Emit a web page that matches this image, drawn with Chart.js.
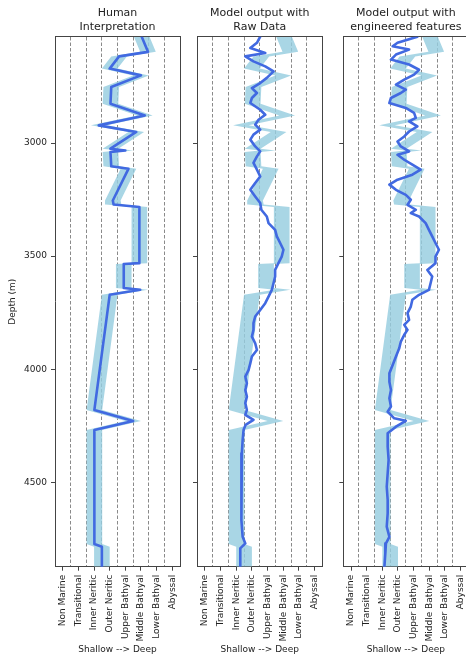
<!DOCTYPE html>
<html><head><meta charset="utf-8">
<script src="https://cdn.jsdelivr.net/npm/chart.js@4.4.1/dist/chart.umd.min.js"></script>
<style>
html,body{margin:0;padding:0;background:#fff;overflow:hidden;width:466px;height:657px;position:relative;}
canvas{position:absolute;top:0;}
</style></head><body>
<canvas id="c1" width="185" height="657" style="left:0px"></canvas>
<canvas id="c2" width="143" height="657" style="left:185px"></canvas>
<canvas id="c3" width="146" height="657" style="left:328px"></canvas>
<script>
// ---- data ----
const categories = ['Non Marine','Transitional','Inner Neritic','Outer Neritic','Upper Bathyal','Middle Bathyal','Lower Bathyal','Abyssal'];
const classBoundaries = [0.5,1.5,2.5,3.5,4.5,5.5,6.5];
const depthTicks = [3000,3500,4000,4500];
const depthMin = 2530, depthMax = 4873;
const bandHalfWidth = 0.5;

const humanDepth = [2530,2597,2617,2671,2701,2752,2826,2878,2922,2951,3025,3033,3040,3103,3114,3254,3272,3283,3531,3535,3641,3649,3671,4180,4229,4269,4773,4785,4873];
const humanValue = [5.05,5.45,3.6,3.0,5.0,3.1,3.05,5.25,2.3,4.7,3.05,4.0,3.05,3.1,4.2,3.2,3.25,4.9,4.9,3.9,3.9,4.95,3.0,2.02,4.5,2.02,2.02,2.5,2.5];

const rawDepth = [2530,2557,2580,2602,2617,2639,2661,2683,2712,2735,2757,2779,2801,2823,2853,2875,2897,2919,2941,2963,2985,3015,3037,3059,3088,3118,3148,3177,3207,3236,3265,3295,3325,3354,3384,3413,3442,3472,3502,3531,3561,3590,3619,3649,3679,3708,3738,3767,3796,3826,3856,3885,3915,3944,3973,4003,4033,4062,4092,4121,4150,4180,4202,4224,4246,4268,4312,4372,4446,4519,4593,4667,4741,4770,4792,4829,4873];
const rawValue = [3.53,3.32,2.9,3.85,2.58,3.1,3.85,4.38,3.95,3.53,3.0,3.32,3.0,2.9,3.53,3.85,3.42,3.21,3.53,3.1,2.9,3.21,3.53,3.32,3.1,3.32,3.53,3.21,2.9,3.21,3.53,3.6,3.95,4.06,4.48,4.59,4.8,5.01,4.9,4.69,4.48,4.48,4.38,4.27,4.06,3.85,3.53,3.21,3.1,3.1,3.0,3.21,3.32,3.0,2.9,2.79,2.58,2.68,2.58,2.68,2.58,2.68,2.58,3.1,2.6,2.47,2.41,2.36,2.32,2.32,2.36,2.32,2.41,2.58,2.26,2.26,2.26];

const engDepth = [2530,2557,2572,2587,2609,2631,2653,2676,2698,2720,2742,2764,2779,2801,2823,2845,2867,2889,2904,2926,2949,2971,2993,3015,3037,3052,3074,3096,3118,3140,3162,3184,3207,3229,3251,3273,3295,3310,3325,3354,3384,3413,3442,3472,3502,3531,3561,3590,3619,3649,3671,3693,3723,3752,3782,3804,3826,3848,3878,3907,3944,3981,4018,4055,4092,4128,4165,4188,4217,4228,4254,4283,4342,4401,4460,4519,4578,4637,4696,4741,4770,4814,4873];
const engValue = [4.24,2.97,2.66,3.71,2.87,2.55,3.71,4.35,4.03,3.4,2.87,3.5,3.18,2.55,2.45,3.5,4.03,4.14,3.71,4.24,3.71,3.4,2.97,3.18,3.71,2.97,3.4,3.92,4.45,3.92,2.97,2.45,2.87,3.5,3.82,3.61,4.14,3.82,4.35,4.77,4.98,5.19,5.4,5.62,5.4,5.4,4.88,5.19,5.09,4.98,4.35,3.92,3.82,3.61,3.71,3.4,3.61,3.4,3.18,3.08,2.87,2.66,2.45,2.45,2.55,2.45,2.55,2.34,2.76,3.5,2.87,2.34,2.34,2.4,2.34,2.28,2.34,2.34,2.28,2.45,2.23,2.19,2.13];

// ---- style ----
const FONT = 'DejaVu Sans';
const textColor = '#222';
const frameColor = '#444';
const gridColor = '#8a8a8a';
const lineColor = '#4169e1';
const bandColor = 'rgba(150,205,223,0.82)';
Chart.defaults.font.family = FONT;

function pts(depth, vals, shift) {
  return depth.map((d, i) => ({x: vals[i] + shift, y: d}));
}

function makePanel(id, cfg) {
  new Chart(document.getElementById(id), {
    type: 'line',
    data: {
      datasets: [
        {data: pts(humanDepth, humanValue, -bandHalfWidth), borderWidth: 0, borderColor: 'rgba(0,0,0,0)', pointRadius: 0, fill: false, order: 2, xAxisID: 'x', yAxisID: 'y'},
        {data: pts(humanDepth, humanValue, bandHalfWidth), borderWidth: 0, borderColor: 'rgba(0,0,0,0)', pointRadius: 0, fill: '-1', backgroundColor: bandColor, order: 1, xAxisID: 'x', yAxisID: 'y'},
        {data: pts(cfg.depth, cfg.value, 0), borderColor: lineColor, borderWidth: 2.6, pointRadius: 0, fill: false, order: 0, borderJoinStyle: 'round', borderCapStyle: 'round', xAxisID: 'x', yAxisID: 'y'}
      ]
    },
    options: {
      indexAxis: 'y',
      responsive: false,
      animation: false,
      devicePixelRatio: 1,
      layout: {padding: {left: 0, right: cfg.padRight, top: 0, bottom: 0}},
      plugins: {
        legend: {display: false},
        tooltip: {enabled: false},
        title: {
          display: true, text: cfg.title, fullSize: false, align: 'center', color: textColor,
          font: {family: FONT, size: 11, weight: 'normal', lineHeight: 1.25},
          padding: {top: 6.4, bottom: 2.8}
        }
      },
      scales: {
        x: {
          type: 'linear', position: 'bottom', min: -0.5, max: 7.5,
          afterBuildTicks: a => { a.ticks = categories.map((c, i) => ({value: i})); },
          afterFit: a => { a.height = 90.3; a.paddingLeft = 0; a.paddingRight = 0; },
          ticks: {autoSkip: false, maxRotation: 90, minRotation: 90, padding: 4, color: textColor,
                  font: {family: FONT, size: 9}, callback: v => categories[Math.round(v)]},
          grid: {drawOnChartArea: false, drawTicks: true, tickLength: 4, color: frameColor, lineWidth: 1},
          border: {display: true, color: frameColor, width: 1},
          title: {display: true, text: 'Shallow --> Deep', color: textColor, font: {family: FONT, size: 9}, padding: {top: 0, bottom: 1.6}}
        },
        xg: {
          type: 'linear', position: 'top', min: -0.5, max: 7.5,
          afterBuildTicks: a => { a.ticks = classBoundaries.map(v => ({value: v})); },
          afterFit: a => { a.height = 0; a.paddingLeft = 0; a.paddingRight = 0; },
          ticks: {display: false},
          grid: {drawTicks: false, color: gridColor, lineWidth: 1},
          border: {display: true, color: frameColor, width: 1, dash: [3.5, 2]}
        },
        y: {
          type: 'linear', position: 'left', reverse: true, min: depthMin, max: depthMax,
          afterBuildTicks: a => { a.ticks = depthTicks.map(v => ({value: v})); },
          afterFit: a => { a.width = cfg.yWidth; a.paddingTop = 0; a.paddingBottom = 0; },
          ticks: {display: cfg.yLabels, padding: 4, color: textColor, font: {family: FONT, size: 9}, callback: v => String(v)},
          grid: {drawOnChartArea: false, drawTicks: true, tickLength: 4, color: frameColor, lineWidth: 1},
          border: {display: true, color: frameColor, width: 1},
          title: {display: cfg.yLabels, text: 'Depth (m)', color: textColor, font: {family: FONT, size: 9}, padding: {top: 7.6, bottom: 0}}
        },
        yr: {
          type: 'linear', position: 'right',
          afterFit: a => { a.width = 0; a.paddingTop = 0; a.paddingBottom = 0; },
          ticks: {display: false},
          grid: {display: false, drawTicks: false},
          border: {display: true, color: frameColor, width: 1}
        }
      }
    }
  });
}

makePanel('c1', {title: ['Human', 'Interpretation'], depth: humanDepth, value: humanValue, yLabels: true, yWidth: 55, padRight: 5});
makePanel('c2', {title: ['Model output with', 'Raw Data'], depth: rawDepth, value: rawValue, yLabels: false, yWidth: 12, padRight: 5.5});
makePanel('c3', {title: ['Model output with', 'engineered features'], depth: engDepth, value: engValue, yLabels: false, yWidth: 15.3, padRight: 5.7});
</script>
</body></html>
